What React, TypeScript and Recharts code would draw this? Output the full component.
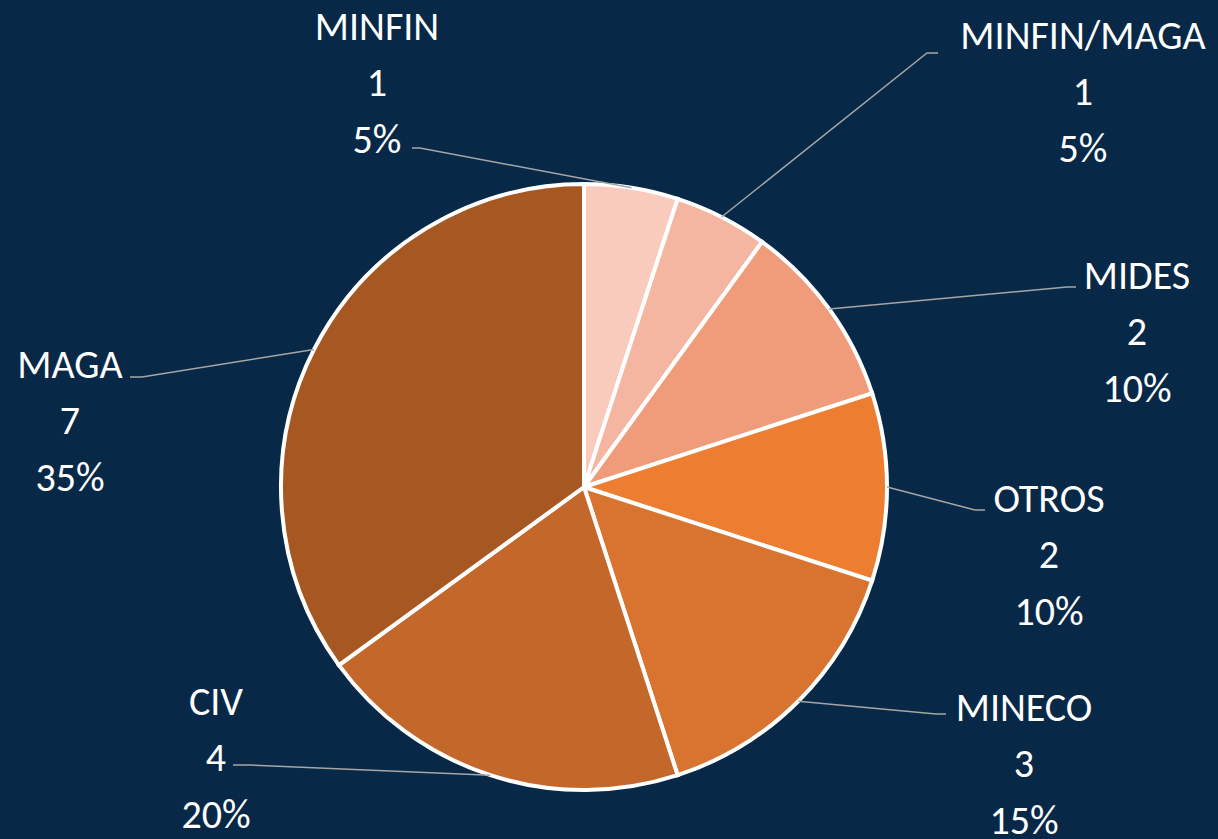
import React from 'react';
import { PieChart, Pie, Cell } from 'recharts';

const categories = ['MINFIN', 'MINFIN/MAGA', 'MIDES', 'OTROS', 'MINECO', 'CIV', 'MAGA'];
const counts = [1, 1, 2, 2, 3, 4, 7];
const percents = ['5%', '5%', '10%', '10%', '15%', '20%', '35%'];

const colors = ['#F8CBBD', '#F4B6A0', '#F09C7A', '#ED7D31', '#D97430', '#C4672A', '#A65722'];

// label placement, offsets from the pie centre (text centre of middle line, leader elbow, leader end)
const labelLayout = [
  { tx: -207, ty: -405, ex: -164, ey: -339, lx: -172, ly: -339 },
  { tx: 499, ty: -396, ex: 343, ey: -434, lx: 354, ly: -434 },
  { tx: 553, ty: -156, ex: 483, ey: -200, lx: 492, ly: -200 },
  { tx: 465, ty: 67, ex: 391, ey: 23, lx: 401, ly: 23 },
  { tx: 440, ty: 276, ex: 352, ey: 227, lx: 362, ly: 227 },
  { tx: -368, ty: 270, ex: -334, ey: 278, lx: -351, ly: 278 },
  { tx: -514, ty: -67, ex: -442, ey: -110, lx: -454, ly: -110 },
];

const data = categories.map((name, i) => ({ name, value: counts[i], pct: percents[i] }));

const RAD = Math.PI / 180;
const LINE = 56.5;

const renderLabel = (props: any) => {
  const { cx, cy, midAngle, outerRadius, index } = props;
  const l = labelLayout[index];
  const sx = cx + Math.cos(-midAngle * RAD) * outerRadius;
  const sy = cy + Math.sin(-midAngle * RAD) * outerRadius;
  const tx = cx + l.tx;
  const ty = cy + l.ty;
  const d = data[index];
  return (
    <g>
      <polyline
        points={`${sx},${sy} ${cx + l.ex},${cy + l.ey} ${cx + l.lx},${cy + l.ly}`}
        fill="none"
        stroke="#A6A6A6"
        strokeWidth={1.5}
      />
      <text
        x={tx}
        y={ty}
        fill="#FFFFFF"
        textAnchor="middle"
        dominantBaseline="central"
        fontSize={40}
        fontFamily="Carlito, Lato, sans-serif"
      >
        <tspan x={tx} y={ty - LINE}>{d.name}</tspan>
        <tspan x={tx} y={ty}>{d.value}</tspan>
        <tspan x={tx} y={ty + LINE}>{d.pct}</tspan>
      </text>
    </g>
  );
};

export default function App() {
  return (
    <div
      style={{
        position: 'absolute',
        top: 0,
        left: 0,
        width: 1218,
        height: 839,
        background: '#072846',
        overflow: 'hidden',
      }}
    >
      <PieChart width={1218} height={839} margin={{ top: 0, right: 0, bottom: 0, left: 0 }}>
        <Pie
          data={data}
          dataKey="value"
          nameKey="name"
          cx={584}
          cy={487}
          outerRadius={303}
          startAngle={90}
          endAngle={-270}
          stroke="#FFFFFF"
          strokeWidth={4}
          label={renderLabel}
          labelLine={false}
          isAnimationActive={false}
        >
          {data.map((d, i) => (
            <Cell key={d.name} fill={colors[i]} />
          ))}
        </Pie>
      </PieChart>
    </div>
  );
}
